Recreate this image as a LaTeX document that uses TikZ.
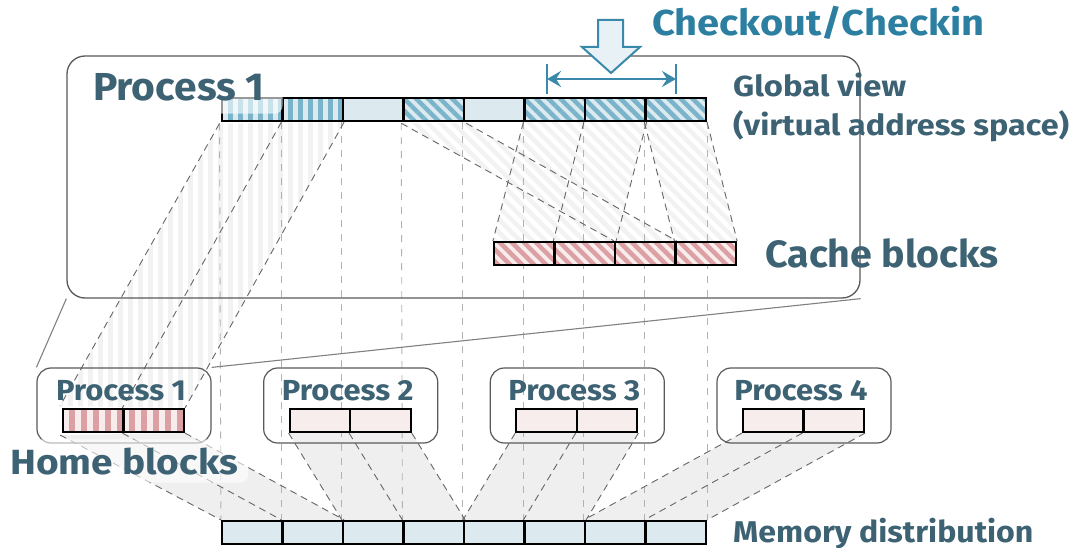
\documentclass[tikz,border=0pt]{standalone}
\usepackage{fontspec}
\setmainfont{Fira Sans}
\usetikzlibrary{patterns.meta,arrows.meta}
\definecolor{txt}{HTML}{3D6273}
\definecolor{chk}{HTML}{2C7FA1}
\definecolor{lblue}{HTML}{DCEAF0}
\definecolor{sblue}{HTML}{7AB4CB}
\definecolor{sred}{HTML}{DC9FA3}
\definecolor{lpink}{HTML}{F8EDED}
\definecolor{rgray}{HTML}{EFEFEF}
\definecolor{fgray}{HTML}{F2F2F2}
\definecolor{abg}{HTML}{E8F1F6}
\definecolor{aline}{HTML}{3A88AA}
\newcommand\fs[1]{\fontsize{#1pt}{#1pt}\selectfont\bfseries}
\newcommand\wx[2]{\scalebox{#1}[1]{#2}}
\pgfdeclarelayer{bg}
\pgfsetlayers{bg,main}
\begin{document}
\begin{tikzpicture}[x=1pt,y=-1pt,
  cell/.style={draw=black, line width=2.2pt, inner sep=0pt, minimum width=60.5pt, minimum height=23pt},
  gp/.style={fill=lblue},
  gv/.style={preaction={fill=lblue}, pattern={Lines[angle=90,distance=10pt,line width=5pt]}, pattern color=sblue},
  gd/.style={preaction={fill=lblue}, pattern={Lines[angle=-45,distance=8.5pt,line width=4.5pt]}, pattern color=sblue},
  rp/.style={fill=lpink},
  rv/.style={preaction={fill=lpink}, pattern={Lines[angle=90,distance=12pt,line width=6pt]}, pattern color=sred},
  rd/.style={preaction={fill=lpink}, pattern={Lines[angle=-45,distance=8.5pt,line width=4.5pt]}, pattern color=sred},
  pbox/.style={draw=black!65, line width=1.2pt, rounded corners=14pt, minimum width=174pt, minimum height=75pt, inner sep=0pt},
  vdash/.style={draw=black!30, line width=0.9pt, dash pattern=on 7pt off 7pt},
  mdash/.style={draw=black!60, line width=0.9pt, dash pattern=on 7pt off 5pt},
  fvert/.style={pattern={Lines[angle=90,distance=10pt,line width=5pt]}, pattern color=fgray},
  fdiag/.style={pattern={Lines[angle=-45,distance=9pt,line width=4.5pt]}, pattern color=fgray},
  greg/.style={fill=rgray},
  zline/.style={draw=black!50, line width=1.1pt},
  lbl/.style={text=txt, inner sep=0pt}
]
\useasboundingbox (0,0) rectangle (1077,548);

% big process box
\node[draw=black!65, line width=1.3pt, rounded corners=18pt, minimum width=793pt, minimum height=242pt, inner sep=0pt] (big) at (463.5,177) {};

% global view cells
\foreach \i/\st in {1/gv,2/gv,3/gp,4/gd,5/gp,6/gd,7/gd,8/gd}
  \node[cell,\st] (g\i) at ({222+60.5*(\i-0.5)},109.5) {};
% cache blocks
\foreach \i in {1,...,4}
  \node[cell,rd] (c\i) at ({494+60.5*(\i-0.5)},253.5) {};
% memory
\foreach \i in {1,...,8}
  \node[cell,gp] (m\i) at ({222+60.5*(\i-0.5)},532.5) {};

% process boxes and home blocks
\foreach \k/\bx/\st in {1/37/rv,2/263.7/rp,3/490.3/rp,4/717/rp}{
  \node[pbox] (p\k) at ({\bx+87},405.5) {};
  \node[cell,\st] (h\k1) at ({\bx+26+30.25},420.5) {};
  \node[cell,\st] (h\k2) at ({\bx+26+90.75},420.5) {};
  \node[lbl, anchor=base] (pt\k) at ({\bx+84},400) {\fs{29}\wx{1.065}{Process \k}};
}

\begin{pgfonlayer}{bg}
  % faint regions
  \fill[fvert] (g1.south west) -- (g2.south east) -- (h12.north east) -- (h11.north west) -- cycle;
  \fill[fdiag] (g4.south west) -- (g4.south east) -- (c3.north east) -- (c3.north west) -- cycle;
  \fill[fdiag] (g6.south west) -- (g7.south east) -- (c2.north east) -- (c1.north west) -- cycle;
  \fill[fdiag] (g8.south west) -- (g8.south east) -- (c4.north east) -- (c4.north west) -- cycle;
  \fill[greg] (h11.south west) -- (h12.south east) -- (m2.north east) -- (m1.north west) -- cycle;
  \fill[greg] (h21.south west) -- (h22.south east) -- (m4.north east) -- (m3.north west) -- cycle;
  \fill[greg] (h31.south west) -- (h32.south east) -- (m6.north east) -- (m5.north west) -- cycle;
  \fill[greg] (h41.south west) -- (h42.south east) -- (m8.north east) -- (m7.north west) -- cycle;
  % vertical guides
  \foreach \i in {1,...,8}
    \draw[vdash] (g\i.south west) -- (m\i.north west);
  \draw[vdash] (g8.south east) -- (m8.north east);
  % global -> home
  \draw[mdash] (g1.south west) -- (h11.north west);
  \draw[mdash] (g2.south west) -- (h12.north west);
  \draw[mdash] (g2.south east) -- (h12.north east);
  % global -> cache
  \draw[mdash] (g4.south west) -- (c3.north west);
  \draw[mdash] (g4.south east) -- (c3.north east);
  \draw[mdash] (g6.south west) -- (c1.north west);
  \draw[mdash] (g7.south west) -- (c2.north west);
  \draw[mdash] (g7.south east) -- (c2.north east);
  \draw[mdash] (g8.south west) -- (c4.north west);
  \draw[mdash] (g8.south east) -- (c4.north east);
  % home -> memory
  \foreach \k/\a/\b in {1/1/2,2/3/4,3/5/6,4/7/8}{
    \draw[mdash] (h\k1.south west) -- (m\a.north west);
    \draw[mdash] (h\k2.south west) -- (m\b.north west);
    \draw[mdash] (h\k2.south east) -- (m\b.north east);
  }
\end{pgfonlayer}

% zoom lines
\draw[zline] (big.south west) -- (p1.north west);
\draw[zline] (p1.north east) -- (big.south east);

% labels
\node[lbl, anchor=base west, fill=white, fill opacity=0.6, text opacity=1, rounded corners=8pt, inner xsep=18pt, inner ysep=12pt] (t1) at (75,101) {\fs{39}\wx{1.045}{Process 1}};
\node[lbl, anchor=base west] (t2) at (733,97) {\fs{29}\wx{1.13}{Global view}};
\node[lbl, anchor=base west] (t3) at (733,136) {\fs{29}\wx{1.117}{(virtual address space)}};
\node[lbl, anchor=base west] (t4) at (765,268) {\fs{38}\wx{1.035}{Cache blocks}};
\node[lbl, anchor=base west, fill=white, fill opacity=0.6, text opacity=1, rounded corners=8pt, inner xsep=10pt, inner ysep=8pt] (t5) at (0,474) {\fs{35}\wx{1.11}{Home blocks}};
\node[lbl, anchor=base west] (t6) at (733,542) {\fs{30}\wx{1.07}{Memory distribution}};
\node[anchor=base west, text=chk, inner sep=0pt] (t7) at (652,36) {\fs{36}\wx{1.107}{Checkout/Checkin}};

% checkout arrow
\draw[draw=aline, fill=abg, line width=2pt, line join=miter]
  (598,20) -- (623,20) -- (623,47) -- (640,47) -- (611,73) -- (582,47) -- (598,47) -- cycle;
\coordinate (al) at (547,79);
\coordinate (ar) at (676,79);
\draw[draw=aline, line width=2.2pt, {Stealth[length=14pt,width=16pt,inset=5pt]}-{Stealth[length=14pt,width=16pt,inset=5pt]}] (al) -- (ar);
\draw[draw=aline, line width=2.2pt] ([yshift=-15pt]al) -- ([yshift=15pt]al);
\draw[draw=aline, line width=2.2pt] ([yshift=-15pt]ar) -- ([yshift=15pt]ar);
\end{tikzpicture}
\end{document}
